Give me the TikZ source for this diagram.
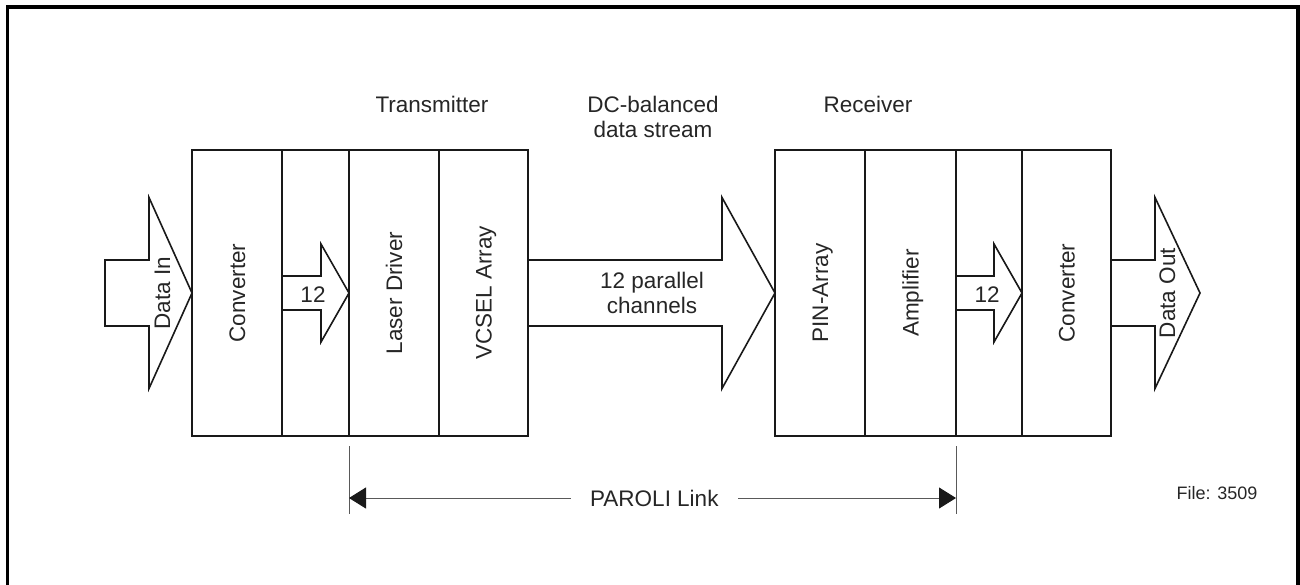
\documentclass[tikz,border=0pt]{standalone}
\usepackage{fontspec}
\setmainfont{Liberation Sans}
\usetikzlibrary{positioning,arrows.meta}

\tikzset{
  blk/.style={draw=black!90, line width=1.6pt, minimum height=286pt, inner sep=0pt, outer sep=0pt, anchor=north west},
  txt/.style={font=\fontsize{22.5}{26}\selectfont, text=black!85, inner sep=0pt, text height=16pt, text depth=0pt},
  vtxt/.style={txt, rotate=90},
  blkarrow/.style={draw=black!90, line width=1.6pt, line join=miter},
  dimline/.style={draw=black!65, line width=1pt},
  dimtip/.tip={Triangle[length=17pt,width=21pt,color=black!90]},
}

% block arrow: start x, head x, tip x, half shaft, half head
\newcommand{\blockarrow}[5]{%
  \draw[blkarrow] (#1,{293-#4}) -- (#2,{293-#4}) -- (#2,{293-#5}) -- (#3,293)
    -- (#2,{293+#5}) -- (#2,{293+#4}) -- (#1,{293+#4}) -- cycle;}

\begin{document}
\begin{tikzpicture}[x=1pt,y=-1pt]
\useasboundingbox (0,0) rectangle (1300,584);

%Frame
\draw[line width=3.5pt] (7.5,590) -- (7.5,7) -- (1298,7) -- (1298,590);

%Transmitter blocks
\node[blk, minimum width=90pt] (convIn) at (192,150) {};
\node[blk, minimum width=67pt, right=0pt of convIn] (serIn) {};
\node[blk, minimum width=90pt, right=0pt of serIn] (laser) {};
\node[blk, minimum width=89pt, right=0pt of laser] (vcsel) {};

%Receiver blocks
\node[blk, minimum width=90pt] (pin) at (775,150) {};
\node[blk, minimum width=91pt, right=0pt of pin] (amp) {};
\node[blk, minimum width=66pt, right=0pt of amp] (serOut) {};
\node[blk, minimum width=89pt, right=0pt of serOut] (convOut) {};

%Block arrows
\blockarrow{105}{149}{192}{33}{95.5}
\blockarrow{282}{321}{349}{17}{49}
\blockarrow{528}{722}{775}{33}{95.5}
\blockarrow{956}{994}{1022}{17}{49}
\blockarrow{1111}{1155}{1200}{33}{95.5}

% Text Nodes
\node[vtxt] (dataIn) at (162,293) {Data In};
\node[vtxt] at (convIn) {Converter};
\node[txt] (chIn) at (313,294) {12};
\node[vtxt] at (laser) {Laser Driver};
\node[vtxt] at (vcsel) {VCSEL Array};
\node[txt] (par1) at (652,280) {12 parallel};
\node[txt] (par2) at (652,305) {channels};
\node[vtxt] at (pin) {PIN-Array};
\node[vtxt] at (amp) {Amplifier};
\node[txt] (chOut) at (987,294) {12};
\node[vtxt] at (convOut) {Converter};
\node[vtxt] (dataOut) at (1167,293) {Data Out};

\node[txt] (tx) at (432,104) {Transmitter};
\node[txt] (dc1) at (653,104) {DC-balanced};
\node[txt] (dc2) at (653,129) {data stream};
\node[txt] (rx) at (868,104) {Receiver};

%PAROLI Link dimension
\coordinate (tickLt) at (laser.south west |- 0,446);
\coordinate (tickLb) at (laser.south west |- 0,514);
\coordinate (tickRt) at (amp.south east |- 0,446);
\coordinate (tickRb) at (amp.south east |- 0,514);
\coordinate (linkL) at (laser.south west |- 0,498);
\coordinate (linkR) at (amp.south east |- 0,498);
\draw[dimline] (tickLt) -- (tickLb);
\draw[dimline] (tickRt) -- (tickRb);
\draw[dimline, dimtip-dimtip] (linkL) -- (linkR)
  node[txt, pos=0.503, fill=white, inner xsep=19pt] (link) {PAROLI Link};

\node[txt, font=\fontsize{18}{22}\selectfont, text height=13pt] (file) at (1217,493) {File: 3509};

\end{tikzpicture}
\end{document}
